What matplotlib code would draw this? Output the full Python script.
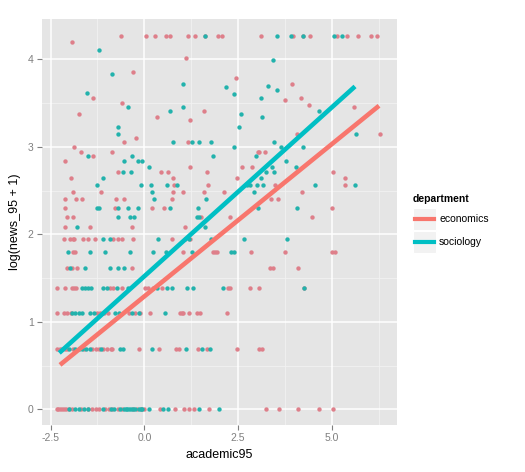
import matplotlib
matplotlib.use("Agg")
import matplotlib.pyplot as plt
from matplotlib.lines import Line2D
from matplotlib.patches import Rectangle

plt.rcParams['font.family'] = ['Liberation Sans', 'DejaVu Sans']

# ---------------- data ----------------
departments = ["economics", "sociology"]

# rows of (y value, list of x values)
econ_rows = [
    (0.0, [-2.33, -2.29, -2.24, -2.20, -2.15, -2.10, -2.02, -1.93, -1.70, -1.50, -1.40, -1.30,
           -1.20, -1.05, -0.95, -0.85, -0.70, -0.60, -0.30, -0.20, -0.10, -0.02, 0.42, 0.82,
           1.07, 1.20, 1.33, 1.73, 3.24, 3.58, 4.09, 4.65, 5.03]),
    (0.693, [-2.32, -2.25, -2.20, -2.12, -2.05, -1.90, -1.60, -1.40, -1.30, -1.20, -1.10, -1.00,
             -0.90, -0.85, -0.13, 0.39, 0.84, 0.93, 1.44, 1.66, 2.46, 3.07, 3.13]),
    (1.099, [-2.33, -2.13, -2.05, -1.95, -1.26, -1.17, -1.08, -0.98, -0.42, -0.24, -0.12, 0.16,
             0.95, 1.00, 1.04, 1.18, 1.40, 1.49, 2.20]),
    (1.386, [-2.32, -2.12, -1.94, -1.88, -1.81, -0.92, -0.83, -0.60, 0.02, 0.11, 0.22, 0.46,
             2.24, 2.29, 2.82, 3.07, 4.27]),
    (1.609, [-2.06, -1.92, -1.80, -0.33, 3.35, 3.42, 4.09]),
    (1.792, [-1.90, -1.85, 1.04, 1.84, 1.89, 1.93, 2.84, 3.75, 5.00, 5.09]),
    (1.946, [-2.15, -1.97, -1.91, -1.88, -1.63, -1.49, -1.31, -0.84, -0.69, -0.59, -0.29, 0.73,
             1.09, 1.22]),
    (2.079, [-2.12, -1.46, -0.34, 1.09]),
    (2.197, [-2.07, -1.91, 1.51, 2.29, 4.47]),
    (2.303, [-2.12, -0.77, 0.21, 0.52, 5.00]),
    (2.398, [-2.12, -1.81, -1.67, -0.76, -0.53, 0.73, 3.37, 3.56]),
    (2.485, [-1.90, -1.16, 0.77, 1.02, 1.59, 2.13, 4.20]),
    (2.565, [0.79, 1.71, 3.49, 5.34]),
    (2.639, [-1.96, 0.77, 2.46, 5.34]),
    (2.708, [-0.69, 0.44, 0.64, 1.68, 5.03]),
    (2.773, [1.21, 2.61, 2.86]),
    (2.833, [-2.12]),
    (2.890, [-1.38]),
    (2.944, [-1.69, -0.87, 3.04, 3.07, 3.22]),
    (2.996, [-1.87]),
    (3.060, [-0.55, 1.17]),
    (3.100, [-0.23]),
    (3.150, [4.07, 6.29]),
    (3.310, [1.21]),
    (3.340, [0.33]),
    (3.380, [-1.74]),
    (3.410, [1.59]),
    (3.450, [5.60]),
    (3.480, [4.38]),
    (3.500, [-0.60]),
    (3.540, [3.75]),
    (3.560, [-1.38, 4.17]),
    (3.720, [3.93]),
    (3.790, [2.45]),
    (3.860, [-0.31]),
    (4.020, [1.10]),
    (4.200, [-1.94]),
    (4.263, [-0.63, 0.04, 0.28, 0.57, 0.68, 1.16, 1.34, 1.61, 1.96, 2.06, 3.10, 3.96, 4.23,
             4.43, 5.13, 5.40, 5.70, 6.04, 6.20]),
]

socio_rows = [
    (0.0, [-2.00, -1.84, -1.75, -1.60, -1.50, -1.10, -0.90, -0.80, -0.65, -0.55, -0.50, -0.45,
           -0.40, -0.35, -0.30, -0.25, -0.15, -0.10, -0.05, 0.12, 0.50, 0.62, 1.46, 1.99]),
    (0.693, [-2.00, -1.85, -1.75, -1.65, -1.55, -1.45, -1.15, -0.65, -0.56, 0.20, 1.10, 1.55, 1.75]),
    (1.099, [-1.93, -1.85, -1.75, -1.66, -1.44, -1.35, -0.77, -0.68, -0.33, -0.15, 0.56]),
    (1.386, [-1.67, -1.58, -1.49, -1.41, -1.09, -1.00, -0.74, -0.43, 0.33, 0.60, 0.73, 1.13,
             1.29, 2.11, 4.27]),
    (1.609, [-1.98, -1.59, -0.91, -0.70, -0.55]),
    (1.792, [-2.03, -1.45, -1.05, -0.38, 0.22, 0.58, 1.26, 2.30, 2.38]),
    (1.946, [-1.10, -0.92, 0.36, 1.20, 1.78, 2.67, 3.80]),
    (2.079, [-1.80, 1.62]),
    (2.197, [-0.70, -0.37, -0.28, 1.40, 1.46]),
    (2.303, [-1.27, -1.20, -0.69, -0.43, -0.18, 0.68, 1.42, 3.02, 4.07]),
    (2.398, [0.26, 1.64]),
    (2.485, [0.21, 2.92]),
    (2.565, [-1.27, -0.09, 0.19, 0.60, 0.86, 2.73, 2.82, 3.00, 3.16, 4.55, 5.62]),
    (2.639, [-1.11, 3.11]),
    (2.708, [-0.57, -0.36, 3.25, 3.46]),
    (2.773, [0.12, 3.40, 4.04]),
    (2.833, [-0.54, -0.16, -0.06, 3.78]),
    (2.890, [-1.51, -0.32, 1.82, 2.98]),
    (2.996, [2.39, 3.65, 4.23]),
    (3.060, [0.76, 1.26, 1.46, 1.77, 3.46]),
    (3.150, [-0.71, 5.64]),
    (3.230, [-0.71, 2.52]),
    (3.340, [3.13]),
    (3.380, [2.58]),
    (3.410, [0.69, 4.65]),
    (3.450, [-0.43, 1.02]),
    (3.560, [3.11]),
    (3.600, [2.38]),
    (3.620, [-1.53]),
    (3.650, [3.54]),
    (3.680, [2.18]),
    (3.700, [3.29]),
    (3.720, [1.02]),
    (3.830, [-0.85]),
    (3.990, [3.43]),
    (4.110, [-1.20]),
    (4.263, [1.61, 3.53, 3.90, 4.23, 5.06, 5.28]),
]

# linear fits: (intercept, slope) and x extent of each fitted line
fit_params = {"economics": (1.29, 0.348), "sociology": (1.52, 0.386)}
fit_ranges = {"economics": (-2.25, 6.26), "sociology": (-2.27, 5.62)}

x_ticks = [-2.5, 0.0, 2.5, 5.0]
x_ticklabels = ["-2.5", "0.0", "2.5", "5.0"]
y_ticks = [0, 1, 2, 3, 4]
y_ticklabels = ["0", "1", "2", "3", "4"]

# ---------------- styling ----------------
line_colors = {"economics": "#F8766D", "sociology": "#00BFC4"}
point_colors = {"economics": "#DE7F8A", "sociology": "#22B2AC"}

W, H = 525, 472
fig = plt.figure(figsize=(W / 100, H / 100), dpi=100)
fig.patch.set_facecolor("white")
L, R, T, B = 42, 397, 19, 425
ax = fig.add_axes([L / W, 1 - B / H, (R - L) / W, (B - T) / H])
ax.set_facecolor("#E5E5E5")
for s in ax.spines.values():
    s.set_visible(False)

ax.set_xlim(-2.73, 6.74)
ax.set_ylim(-0.18, 4.46)

# grid
for v in [-1.25, 1.25, 3.75, 6.25]:
    ax.axvline(v, color="#F2F2F2", lw=0.6, zorder=0)
for v in [0.5, 1.5, 2.5, 3.5]:
    ax.axhline(v, color="#F2F2F2", lw=0.6, zorder=0)
for v in x_ticks:
    ax.axvline(v, color="white", lw=1.1, zorder=0)
for v in y_ticks:
    ax.axhline(v, color="white", lw=1.1, zorder=0)

rows = {"economics": econ_rows, "sociology": socio_rows}
for dep in departments:
    xs, ys = [], []
    for yv, xl in rows[dep]:
        xs.extend(xl)
        ys.extend([yv] * len(xl))
    ax.scatter(xs, ys, s=10, color=point_colors[dep], linewidths=0, zorder=2)

for dep in departments:
    a, b = fit_params[dep]
    x0, x1 = fit_ranges[dep]
    ax.plot([x0, x1], [a + b * x0, a + b * x1], color=line_colors[dep], lw=3.3,
            solid_capstyle="butt", zorder=3)

ax.set_xticks(x_ticks)
ax.set_xticklabels(x_ticklabels)
ax.set_yticks(y_ticks)
ax.set_yticklabels(y_ticklabels)
ax.tick_params(axis="both", length=3.5, width=0.8, color="#7F7F7F", labelcolor="#7F7F7F",
               labelsize=7.5, pad=2.5)
ax.set_xlabel("academic95", fontsize=9, labelpad=4)
ax.set_ylabel("log(news_95 + 1)", fontsize=9, labelpad=5)

# legend (ggplot style)
fig.text(413 / W, 1 - 199 / H, "department", fontsize=7.5, fontweight="bold",
         ha="left", va="center")
for i, dep in enumerate(departments):
    yc = 219 + i * 23
    fig.patches.append(Rectangle((413 / W, 1 - (yc + 11) / H), 23 / W, 22 / H,
                                 transform=fig.transFigure, facecolor="#F2F2F2",
                                 edgecolor="white", lw=0.8))
    fig.lines.append(Line2D([415 / W, 434 / W], [1 - yc / H, 1 - yc / H],
                            transform=fig.transFigure, color=line_colors[dep], lw=3.0))
    fig.text(439 / W, 1 - yc / H, dep, fontsize=7.5, ha="left", va="center")

fig.savefig("out.png", dpi=100)
